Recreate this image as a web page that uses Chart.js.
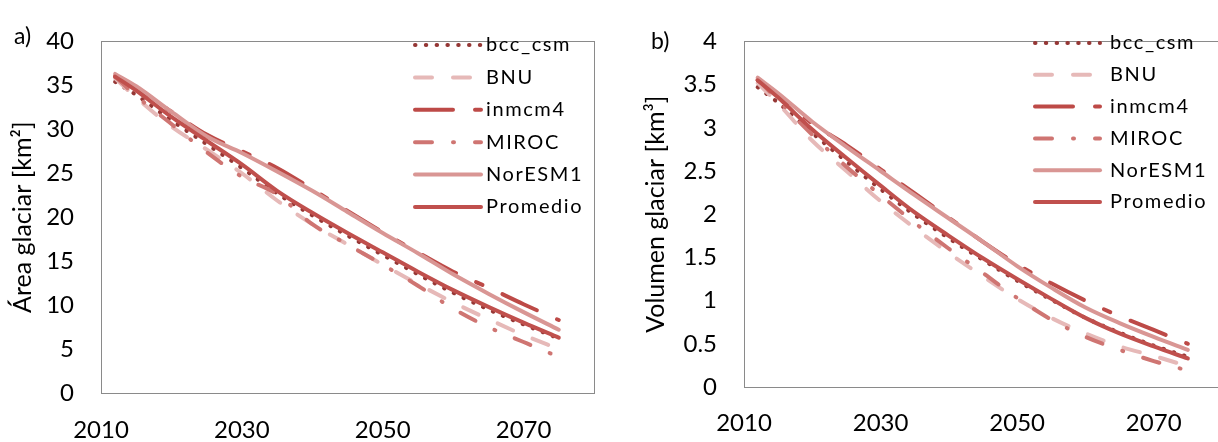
<!DOCTYPE html>
<html>
<head>
<meta charset="utf-8">
<title>Area y volumen glaciar</title>
<script src="https://cdn.jsdelivr.net/npm/chart.js@4.4.1/dist/chart.umd.min.js"></script>
<style>
    html, body { margin: 0; padding: 0; background: #fff; width: 1218px; height: 442px; overflow: hidden; }
    #cajaA { position: absolute; left: 0; top: 0; }
    #cajaB { position: absolute; left: 600px; top: 0; }
    .panel { position: absolute; font-family: Lato, sans-serif; font-size: 23px; color: #000; }
</style>
</head>
<body>
<div id="cajaA"><canvas id="graficoArea" width="600" height="442"></canvas></div>
<div id="cajaB"><canvas id="graficoVolumen" width="630" height="442"></canvas></div>
<div class="panel" style="left:14px; top:21px;">a)</div>
<div class="panel" style="left:651px; top:26px;">b)</div>
<script>
// datos
var modelos = ['bcc_csm', 'BNU', 'inmcm4', 'MIROC', 'NorESM1', 'Promedio'];
var anios = [2012, 2015, 2020, 2025, 2030, 2035, 2040, 2045, 2050, 2055, 2060, 2065, 2070, 2075];
var ticksX = [2010, 2030, 2050, 2070];

// a) area glaciar [km2]
var areaBcc   = [35.4, 33.9, 31.0, 28.3, 25.6, 22.7, 20.2, 17.9, 15.7, 13.5, 11.4, 9.5, 7.8, 6.2];
var areaBnu   = [35.8, 33.6, 30.3, 27.7, 25.0, 21.9, 19.2, 16.9, 14.6, 12.4, 10.3, 8.4, 6.6, 5.0];
var areaInm   = [36.0, 34.7, 32.0, 29.4, 27.5, 25.6, 23.2, 20.7, 18.3, 16.0, 13.8, 12.0, 10.1, 8.3];
var areaMiroc = [36.0, 33.8, 30.6, 27.4, 24.6, 22.6, 19.2, 16.9, 14.6, 12.2, 9.6, 7.5, 5.8, 4.1];
var areaNor   = [36.3, 34.9, 32.0, 29.2, 27.3, 25.2, 23.0, 20.6, 18.2, 15.9, 13.5, 11.3, 9.2, 7.2];
var areaProm  = [36.0, 34.4, 31.4, 28.7, 26.0, 23.0, 20.5, 18.2, 16.0, 13.8, 11.7, 9.8, 8.0, 6.3];

// b) volumen glaciar [km3]
var volBcc   = [3.47, 3.29, 2.94, 2.61, 2.29, 1.99, 1.72, 1.47, 1.23, 1.01, 0.80, 0.63, 0.48, 0.35];
var volBnu   = [3.52, 3.28, 2.85, 2.50, 2.15, 1.84, 1.55, 1.28, 1.02, 0.80, 0.62, 0.47, 0.36, 0.24];
var volInm   = [3.55, 3.38, 3.05, 2.80, 2.52, 2.24, 1.96, 1.68, 1.42, 1.20, 1.00, 0.82, 0.66, 0.50];
var volMiroc = [3.56, 3.32, 2.92, 2.55, 2.22, 1.90, 1.60, 1.32, 1.03, 0.78, 0.58, 0.43, 0.30, 0.19];
var volNor   = [3.58, 3.40, 3.07, 2.78, 2.50, 2.22, 1.95, 1.68, 1.40, 1.15, 0.92, 0.74, 0.58, 0.43];
var volProm  = [3.55, 3.35, 2.98, 2.65, 2.33, 2.02, 1.75, 1.49, 1.25, 1.02, 0.80, 0.62, 0.47, 0.33];

var colores = ['#953735', '#e6b9b8', '#bd4a47', '#cf7572', '#d99694', '#c0504d'];
var guiones = [[0.5, 10.3], [17, 21], [38, 22, 7, 22], [17, 21, 1, 21], [], []];

function armarDatasets(series) {
    return series.map(function (valores, i) {
        return {
            label: modelos[i],
            data: valores.map(function (v, j) { return { x: anios[j], y: v }; }),
            borderColor: colores[i],
            borderWidth: 4,
            borderDash: guiones[i],
            borderCapStyle: 'round',
            borderJoinStyle: 'round',
            pointRadius: 0,
            fill: false,
            cubicInterpolationMode: 'monotone',
            order: modelos.length - i
        };
    });
}

// marco gris del area de trazado
var marco = {
    id: 'marco',
    beforeDatasetsDraw: function (chart) {
        var a = chart.chartArea, ctx = chart.ctx;
        ctx.save();
        ctx.strokeStyle = '#8a8a8a';
        ctx.lineWidth = 1;
        ctx.strokeRect(Math.round(a.left) + 0.5, Math.round(a.top) + 0.5, Math.round(a.right - a.left), Math.round(a.bottom - a.top));
        ctx.restore();
    }
};

// leyenda dentro del area de trazado
var leyenda = {
    id: 'leyendaInterna',
    afterDraw: function (chart, args, opts) {
        var ctx = chart.ctx;
        ctx.save();
        chart.data.datasets.forEach(function (ds, i) {
            var y = opts.y + i * opts.paso;
            ctx.beginPath();
            ctx.strokeStyle = ds.borderColor;
            ctx.lineWidth = ds.borderWidth;
            ctx.lineCap = 'round';
            ctx.setLineDash(ds.borderDash);
            ctx.moveTo(opts.x, y);
            ctx.lineTo(opts.x + opts.largo, y);
            ctx.stroke();
            ctx.setLineDash([]);
            ctx.fillStyle = '#000';
            ctx.font = '20px Lato';
            ctx.letterSpacing = '1.6px';
            ctx.textBaseline = 'middle';
            ctx.fillText(ds.label, opts.texto, y);
        });
        ctx.restore();
    }
};

function opciones(cfg) {
    return {
        responsive: false,
        animation: false,
        layout: { padding: { left: cfg.izq, top: 23, right: cfg.der, bottom: 0 } },
        plugins: {
            legend: { display: false },
            tooltip: { enabled: false },
            leyendaInterna: cfg.leyenda
        },
        scales: {
            x: {
                type: 'linear',
                min: 2010,
                max: 2080,
                afterBuildTicks: function (s) { s.ticks = ticksX.map(function (v) { return { value: v }; }); },
                afterFit: function (s) { s.height = cfg.altoX; },
                grid: { display: false, drawTicks: false },
                border: { display: false },
                ticks: {
                    autoSkip: false,
                    maxRotation: 0,
                    padding: cfg.padX,
                    color: '#000',
                    font: { family: 'Lato', size: 24 },
                    callback: function (v) { return String(v); }
                }
            },
            y: {
                min: 0,
                max: cfg.maxY,
                afterFit: function (s) { s.width = cfg.anchoY; },
                grid: { display: false, drawTicks: false },
                border: { display: false },
                ticks: {
                    stepSize: cfg.pasoY,
                    padding: 27,
                    color: '#000',
                    font: { family: 'Lato', size: 24 },
                    callback: function (v) { return String(Math.round(v * 10) / 10); }
                },
                title: {
                    display: true,
                    text: cfg.titulo,
                    color: '#000',
                    font: { family: 'Lato', size: 25 },
                    padding: { top: 8, bottom: 0 }
                }
            }
        }
    };
}

new Chart(document.getElementById('graficoArea').getContext('2d'), {
    type: 'line',
    data: { datasets: armarDatasets([areaBcc, areaBnu, areaInm, areaMiroc, areaNor, areaProm]) },
    options: opciones({
        izq: 0, der: 6, anchoY: 101, altoX: 49, padX: 23, maxY: 40, pasoY: 5,
        titulo: 'Área glaciar [km²]',
        leyenda: { x: 415, largo: 66, texto: 486, y: 45, paso: 32.4 }
    }),
    plugins: [marco, leyenda]
});

new Chart(document.getElementById('graficoVolumen').getContext('2d'), {
    type: 'line',
    data: { datasets: armarDatasets([volBcc, volBnu, volInm, volMiroc, volNor, volProm]) },
    options: opciones({
        izq: 33, der: 8, anchoY: 111, altoX: 55, padX: 22, maxY: 4, pasoY: 0.5,
        titulo: 'Volumen glaciar [km³]',
        leyenda: { x: 435, largo: 65, texto: 510, y: 43, paso: 31.8 }
    }),
    plugins: [marco, leyenda]
});
</script>
</body>
</html>
